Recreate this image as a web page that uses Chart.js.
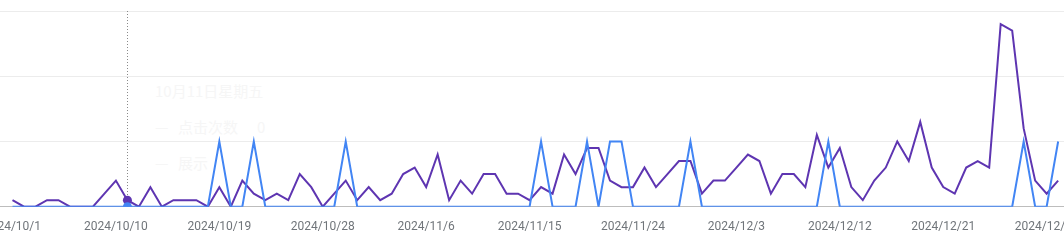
<!DOCTYPE html>
<html lang="zh">
<head>
  <meta charset="UTF-8">
  <title>点击次数 / 展示</title>
  <style>
    html, body {
      margin: 0;
      padding: 0;
      background: #fff;
      overflow: hidden;
    }
    .wrap {
      position: relative;
      width: 1064px;
      height: 244px;
    }
    /* faded tooltip left over from the hover */
    .ghost {
      position: absolute;
      left: 155px;
      top: 80px;
      font-family: 'Noto Sans CJK SC', Roboto, sans-serif;
      color: #f6f6f6;
      pointer-events: none;
      z-index: 0;
    }
    .ghost .title { font-size: 15px; line-height: 22px; }
    .ghost .row { font-size: 15px; line-height: 22px; margin-top: 14px; }
    .ghost .row span { display: inline-block; }
    .ghost .dash { width: 23px; }
    .ghost .name { width: 79px; }
    canvas { position: relative; z-index: 1; }
  </style>
</head>
<body>
  <div class="wrap">
    <div class="ghost">
      <div class="title">10月11日星期五</div>
      <div class="row"><span class="dash">—</span><span class="name">点击次数</span><span>0</span></div>
      <div class="row"><span class="dash">—</span><span class="name">展示</span></div>
    </div>
    <canvas id="chart" width="1064" height="244"></canvas>
  </div>

  <script src="https://cdn.jsdelivr.net/npm/chart.js"></script>
  <script>
    const dates = [
      '2024/10/1','2024/10/2','2024/10/3','2024/10/4','2024/10/5','2024/10/6','2024/10/7','2024/10/8','2024/10/9','2024/10/10',
      '2024/10/11','2024/10/12','2024/10/13','2024/10/14','2024/10/15','2024/10/16','2024/10/17','2024/10/18','2024/10/19','2024/10/20',
      '2024/10/21','2024/10/22','2024/10/23','2024/10/24','2024/10/25','2024/10/26','2024/10/27','2024/10/28','2024/10/29','2024/10/30','2024/10/31',
      '2024/11/1','2024/11/2','2024/11/3','2024/11/4','2024/11/5','2024/11/6','2024/11/7','2024/11/8','2024/11/9','2024/11/10',
      '2024/11/11','2024/11/12','2024/11/13','2024/11/14','2024/11/15','2024/11/16','2024/11/17','2024/11/18','2024/11/19','2024/11/20',
      '2024/11/21','2024/11/22','2024/11/23','2024/11/24','2024/11/25','2024/11/26','2024/11/27','2024/11/28','2024/11/29','2024/11/30',
      '2024/12/1','2024/12/2','2024/12/3','2024/12/4','2024/12/5','2024/12/6','2024/12/7','2024/12/8','2024/12/9','2024/12/10',
      '2024/12/11','2024/12/12','2024/12/13','2024/12/14','2024/12/15','2024/12/16','2024/12/17','2024/12/18','2024/12/19','2024/12/20',
      '2024/12/21','2024/12/22','2024/12/23','2024/12/24','2024/12/25','2024/12/26','2024/12/27','2024/12/28','2024/12/29','2024/12/30','2024/12/31'
    ];

    // 点击次数 (left axis, 0..3)
    const clicks = [
      0,0,0,0,0,0,0,0,0,0,
      0,0,0,0,0,0,0,0,1,0,
      0,1,0,0,0,0,0,0,0,1,
      0,0,0,0,0,0,0,0,0,0,
      0,0,0,0,0,0,1,0,0,0,
      1,0,1,1,0,0,0,0,0,1,
      0,0,0,0,0,0,0,0,0,0,
      0,1,0,0,0,0,0,0,0,0,
      0,0,0,0,0,0,0,0,1,0,
      0,1
    ];

    // 展示 (right axis, 0..30)
    const impressions = [
      1,0,0,1,1,0,0,0,2,4,
      1,0,3,0,1,1,1,0,3,0,
      4,2,1,2,1,5,3,0,2,4,
      1,3,1,2,5,6,3,8,1,4,
      2,5,5,2,2,1,3,2,8,5,
      9,9,4,3,3,6,3,5,7,7,
      2,4,4,6,8,7,2,5,5,3,
      11,6,9,3,1,4,6,10,7,13,
      6,3,2,6,7,6,28,27,12,4,
      2,4
    ];

    const tickEvery = 9;
    const hoverIndex = 10;

    const toPoints = arr => arr.map((v, i) => ({ x: i, y: v }));
    const dotRadius = ctx => ctx.dataIndex === hoverIndex ? 4.5 : 0;

    const hoverLine = {
      id: 'hoverLine',
      beforeDatasetsDraw(chart) {
        const { ctx, chartArea, scales } = chart;
        const x = Math.round(scales.x.getPixelForValue(hoverIndex)) + 0.5;
        ctx.save();
        ctx.strokeStyle = '#8a8a8a';
        ctx.lineWidth = 1;
        ctx.setLineDash([1, 2]);
        ctx.beginPath();
        ctx.moveTo(x, chartArea.top);
        ctx.lineTo(x, chartArea.bottom);
        ctx.stroke();
        ctx.restore();
      }
    };

    new Chart(document.getElementById('chart'), {
      type: 'line',
      data: {
        datasets: [{
          label: '点击次数',
          data: toPoints(clicks),
          yAxisID: 'y',
          borderColor: '#4285f4',
          backgroundColor: '#4285f4',
          borderWidth: 2,
          pointRadius: dotRadius,
          pointBorderWidth: 0,
          tension: 0,
          order: 0
        }, {
          label: '展示',
          data: toPoints(impressions),
          yAxisID: 'y1',
          borderColor: '#5e35b1',
          backgroundColor: '#5e35b1',
          borderWidth: 2,
          pointRadius: dotRadius,
          pointBorderWidth: 0,
          tension: 0,
          order: 1
        }]
      },
      options: {
        responsive: false,
        animation: false,
        events: [],
        layout: { padding: { top: 11, left: 0, right: 0, bottom: 0 } },
        plugins: {
          legend: { display: false },
          tooltip: { enabled: false }
        },
        scales: {
          x: {
            type: 'linear',
            min: -1.088,
            max: 91.51,
            grid: { display: false, drawTicks: false },
            border: { display: false },
            afterBuildTicks: scale => {
              scale.ticks = dates.map((d, i) => i).filter(i => i % tickEvery === 0).map(v => ({ value: v }));
            },
            afterFit: scale => {
              scale.height = 37.3;
              scale.paddingLeft = 0;
              scale.paddingRight = 0;
            },
            ticks: {
              autoSkip: false,
              maxRotation: 0,
              padding: 13,
              color: '#70757a',
              font: { family: 'Roboto', size: 12 },
              callback: value => dates[value]
            }
          },
          y: {
            position: 'left',
            min: 0,
            max: 3,
            display: true,
            ticks: { display: false, stepSize: 1 },
            border: { display: false },
            grid: {
              drawTicks: false,
              color: ctx => ctx.tick.value === 0 ? '#bdbdbd' : '#ececec'
            },
            afterFit: scale => { scale.width = 0; }
          },
          y1: {
            position: 'right',
            min: 0,
            max: 30,
            display: false
          }
        }
      },
      plugins: [hoverLine]
    });
  </script>
</body>
</html>
